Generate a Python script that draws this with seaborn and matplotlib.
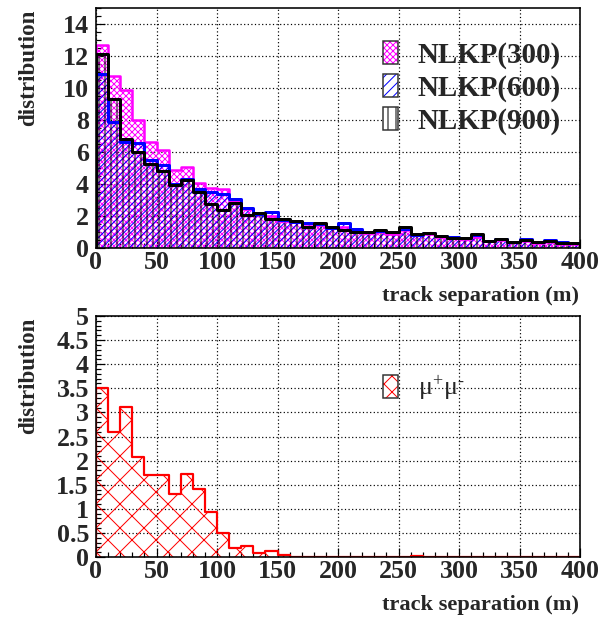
import numpy as np
import pandas as pd
import matplotlib
matplotlib.use("Agg")
import matplotlib.pyplot as plt
import seaborn as sns
from matplotlib.patches import Patch
from matplotlib.legend_handler import HandlerTuple
from matplotlib.ticker import MultipleLocator

# ---------------- data ----------------
bin_edges = list(range(0, 410, 10))
nlkp300 = [12.67, 10.73, 9.88, 7.98, 6.65, 6.12, 4.88, 5.08, 4.04, 3.75,
           3.70, 2.95, 2.45, 2.10, 2.00, 1.70, 1.62, 1.40, 1.45, 1.22,
           1.30, 1.05, 0.95, 1.00, 0.90, 1.10, 0.80, 0.85, 0.68, 0.62,
           0.58, 0.70, 0.42, 0.50, 0.36, 0.45, 0.33, 0.40, 0.28, 0.26]
nlkp600 = [10.88, 7.90, 6.60, 6.56, 5.50, 5.20, 4.00, 4.30, 3.70, 3.48,
           3.38, 3.06, 2.50, 2.12, 2.27, 1.72, 1.65, 1.54, 1.50, 1.25,
           1.58, 1.17, 1.00, 1.05, 0.98, 1.20, 0.82, 0.92, 0.72, 0.71,
           0.62, 0.80, 0.42, 0.55, 0.38, 0.58, 0.35, 0.50, 0.40, 0.30]
nlkp900 = [12.15, 9.31, 6.81, 6.00, 5.27, 4.83, 3.96, 4.27, 3.48, 2.77,
           2.35, 2.80, 2.06, 2.17, 1.79, 1.79, 1.71, 1.33, 1.58, 1.33,
           1.13, 1.00, 1.02, 1.13, 1.02, 1.33, 0.88, 0.96, 0.77, 0.62,
           0.65, 0.85, 0.44, 0.58, 0.40, 0.48, 0.38, 0.42, 0.29, 0.29]
mumu = [3.50, 2.60, 3.12, 2.08, 1.70, 1.70, 1.30, 1.73, 1.41, 0.94,
        0.49, 0.18, 0.235, 0.09, 0.13, 0.04, 0.01, 0.0, 0.0, 0.0,
        0.0, 0.0, 0.0, 0.0, 0.0, 0.0, 0.02, 0.0, 0.0, 0.0,
        0.0, 0.0, 0.0, 0.0, 0.0, 0.0, 0.0, 0.0, 0.0, 0.0]
top_labels = ["NLKP(300)", "NLKP(600)", "NLKP(900)"]
bottom_label = "$\\mathregular{\\mu^{+}\\mu^{\u2010}}$"
x_title = "track separation (m)"
y_title = "distribution"

# ---------------- style ----------------
DPI = 144
W, H = 608, 620
sns.set_theme(style="white")
plt.rcParams["font.family"] = ["Liberation Serif", "DejaVu Serif"]
plt.rcParams["mathtext.fontset"] = "custom"
plt.rcParams["mathtext.rm"] = "Liberation Serif"
plt.rcParams["mathtext.it"] = "Liberation Serif:italic"
plt.rcParams["hatch.linewidth"] = 0.5

def px(v):  # pixels -> points at this dpi
    return v * 72.0 / DPI

HATCH_M = "x" * 8
HATCH_B = "/" * 7
HATCH_K = "|" * 4
HATCH_R = "xx"

fig = plt.figure(figsize=(W / DPI, H / DPI), dpi=DPI)
ax1 = fig.add_axes([96 / W, 1 - 248 / H, (580 - 96) / W, (248 - 8) / H])
ax2 = fig.add_axes([96 / W, 1 - 557 / H, (580 - 96) / W, (557 - 316) / H])

edges = np.array(bin_edges, dtype=float)
centers = (edges[:-1] + edges[1:]) / 2


def draw_hist(ax, vals, color, hatch, lw):
    n0 = len(ax.patches)
    df = pd.DataFrame({"x": centers, "w": np.asarray(vals, dtype=float)})
    sns.histplot(data=df, x="x", weights="w", bins=list(bin_edges),
                 element="bars", fill=True, ax=ax, color=color)
    for p in ax.patches[n0:]:
        p.set_facecolor("none")
        p.set_edgecolor(color)
        p.set_linewidth(0)
        p.set_hatch(hatch)
        p.set_alpha(1)
    # outline (ROOT-like): step line dropping to zero at both ends
    sx = np.repeat(edges, 2)
    sy = np.concatenate([[0], np.repeat(vals, 2), [0]])
    sns.lineplot(x=sx, y=sy, ax=ax, color=color, linewidth=px(lw),
                 sort=False, estimator=None)


draw_hist(ax1, nlkp300, "#ff00ff", HATCH_M, 2.5)
draw_hist(ax1, nlkp600, "#0000ff", HATCH_B, 3)
draw_hist(ax1, nlkp900, "#000000", HATCH_K, 3)
draw_hist(ax2, mumu, "#ff0000", HATCH_R, 2.2)

for ax, ymax, ymaj, ymin in [(ax1, 15, 2, 0.5), (ax2, 5, 0.5, 0.1)]:
    ax.set_xlim(0, 400)
    ax.set_ylim(0, ymax)
    ax.xaxis.set_major_locator(MultipleLocator(50))
    ax.xaxis.set_minor_locator(MultipleLocator(10))
    ax.yaxis.set_major_locator(MultipleLocator(ymaj))
    ax.yaxis.set_minor_locator(MultipleLocator(ymin))
    ax.yaxis.set_major_formatter(matplotlib.ticker.FuncFormatter(
        lambda v, p: ("%g" % v)))
    ax.set_xlabel("")
    ax.set_ylabel("")
    ax.tick_params(which="both", direction="in", bottom=True, left=True,
                   top=False, right=False, color="black", width=px(1.2))
    ax.tick_params(which="major", length=px(9))
    ax.tick_params(which="minor", length=px(5))
    ax.tick_params(axis="x", which="major", labelsize=px(26), pad=px(3))
    ax.tick_params(axis="y", which="major", labelsize=px(26), pad=px(7))
    ax.grid(True, which="major", color="black", linestyle=(0, (1, 2)),
            linewidth=px(1.2))
    ax.set_axisbelow(True)
    for s in ax.spines.values():
        s.set_color("black")
        s.set_linewidth(px(1.6))
        s.set_visible(True)

fig.canvas.draw()
for ax in (ax1, ax2):
    for lab in ax.get_xticklabels() + ax.get_yticklabels():
        lab.set_fontweight("bold")

# legends
def legend_handles(colors, hatches):
    hs = []
    for c, h in zip(colors, hatches):
        hs.append((Patch(facecolor="white", edgecolor=c, hatch=h, linewidth=0),
                   Patch(facecolor="none", edgecolor="#333333", linewidth=px(1.5))))
    return hs

fs1 = 29.0
leg1 = ax1.legend(legend_handles(["#ff00ff", "#0000ff", "#000000"],
                                 [HATCH_M, "/" * 5, "|" * 3]),
                  top_labels, handler_map={tuple: HandlerTuple(ndivide=1)},
                  loc="upper left",
                  bbox_to_anchor=((383 - 96) / 484, 1 - (41 - 8) / 240),
                  frameon=False, prop={"weight": "bold", "size": px(fs1)},
                  handlelength=15 / fs1, handleheight=24 / fs1,
                  handletextpad=20 / fs1, labelspacing=0.18,
                  borderpad=0, borderaxespad=0)

fs2 = 26.0
leg2 = ax2.legend(legend_handles(["#ff0000"], ["xxx"]), [bottom_label],
                  handler_map={tuple: HandlerTuple(ndivide=1)},
                  loc="upper left",
                  bbox_to_anchor=((383 - 96) / 484, 1 - (374 - 316) / 241),
                  frameon=False, prop={"size": px(fs2)},
                  handlelength=15 / fs2, handleheight=25 / fs2,
                  handletextpad=20 / fs2, borderpad=0, borderaxespad=0)

# axis titles (ROOT-like, right/top aligned)
fs_t = px(22.4)
fig.text(579 / W, 1 - 301 / H, x_title, ha="right", va="baseline",
         fontsize=fs_t, fontweight="bold")
fig.text(579 / W, 1 - 610 / H, x_title, ha="right", va="baseline",
         fontsize=fs_t, fontweight="bold")
fig.text(29 / W, 1 - 10 / H, y_title, ha="center", va="top", rotation=90,
         fontsize=px(23), fontweight="bold")
fig.text(29 / W, 1 - 318 / H, y_title, ha="center", va="top", rotation=90,
         fontsize=px(23), fontweight="bold")

fig.savefig("out.png", dpi=DPI)
